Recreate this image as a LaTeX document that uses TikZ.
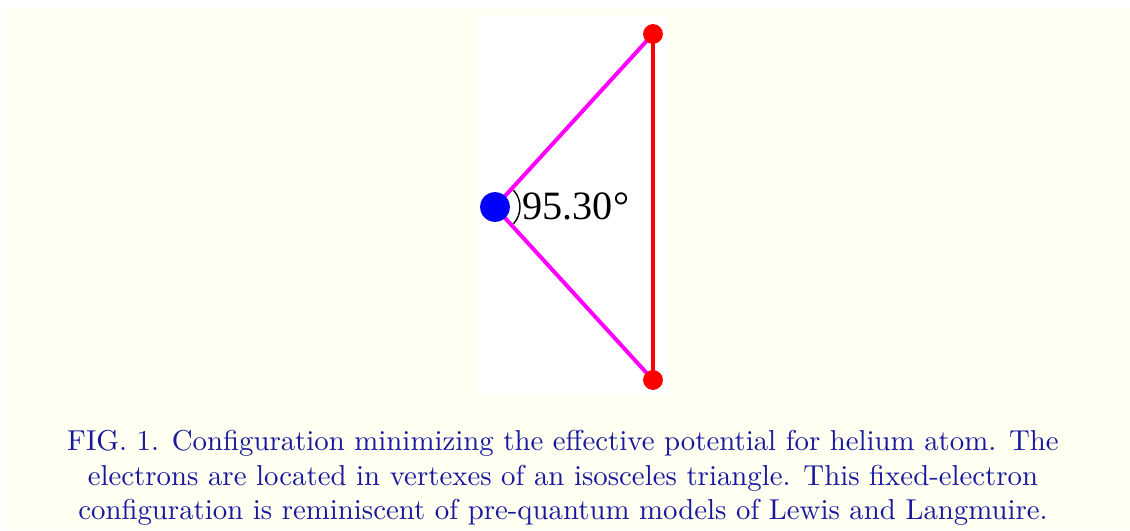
\documentclass[tikz,border=0pt]{standalone}
\usepackage{fontspec}
\newfontfamily\timesfont{Liberation Serif}
\usepackage{xcolor}
\usepackage{tikz}
\usetikzlibrary{positioning,calc}
\definecolor{PageCream}{HTML}{FFFFF2}
\definecolor{CaptionBlue}{HTML}{18189E}
\definecolor{BondMagenta}{HTML}{FF00FF}
\definecolor{NucleusBlue}{HTML}{0000FF}
\definecolor{ElectronRed}{HTML}{FF0000}

\begin{document}
\begin{tikzpicture}[x=0.353pt,y=-0.353pt,
		bond/.style={BondMagenta,line width=1.4pt},
		link/.style={ElectronRed,line width=1.1pt},
		nucleus/.style={circle,fill=NucleusBlue,inner sep=0pt,minimum size=10.5pt},
		electron/.style={circle,fill=ElectronRed,inner sep=0pt,minimum size=7pt}]
		\useasboundingbox (0,0) rectangle (1130,531);
		\fill[white] (0,0) rectangle (1130,531);
		\fill[PageCream] (5,8) rectangle (1130,530);
		\fill[white] (476,16) rectangle (668,395);
		\coordinate (N) at (495,207);
		\coordinate (E1) at (653,34);
		\coordinate (E2) at (653,380);
		\draw[bond] (N)--(E1);
		\draw[bond] (N)--(E2);
		\draw[link] (E1)--(E2);
		\node[nucleus] (nuc) at (N) {};
		\node[electron] (top) at (E1) {};
		\node[electron] (bot) at (E2) {};
		% angle mark
		\draw[line width=0.5pt,black] ($(N)+(-42:25)$) arc[start angle=-42,end angle=42,radius=25];
		\node[anchor=west,inner sep=0pt,font=\timesfont\fontsize{14.2}{16}\selectfont] (ang) at (522,206) {95.30°};
		\node[CaptionBlue,align=center,inner sep=0pt,anchor=north,font=\fontsize{10.17}{12.2}\selectfont] (cap) at (563,430)
			{FIG. 1. Configuration minimizing the effective potential for helium atom. The\\
			electrons are located in vertexes of an isosceles triangle. This fixed-electron\\
			configuration is reminiscent of pre-quantum models of Lewis and Langmuire.};
	\end{tikzpicture}
\end{document}
